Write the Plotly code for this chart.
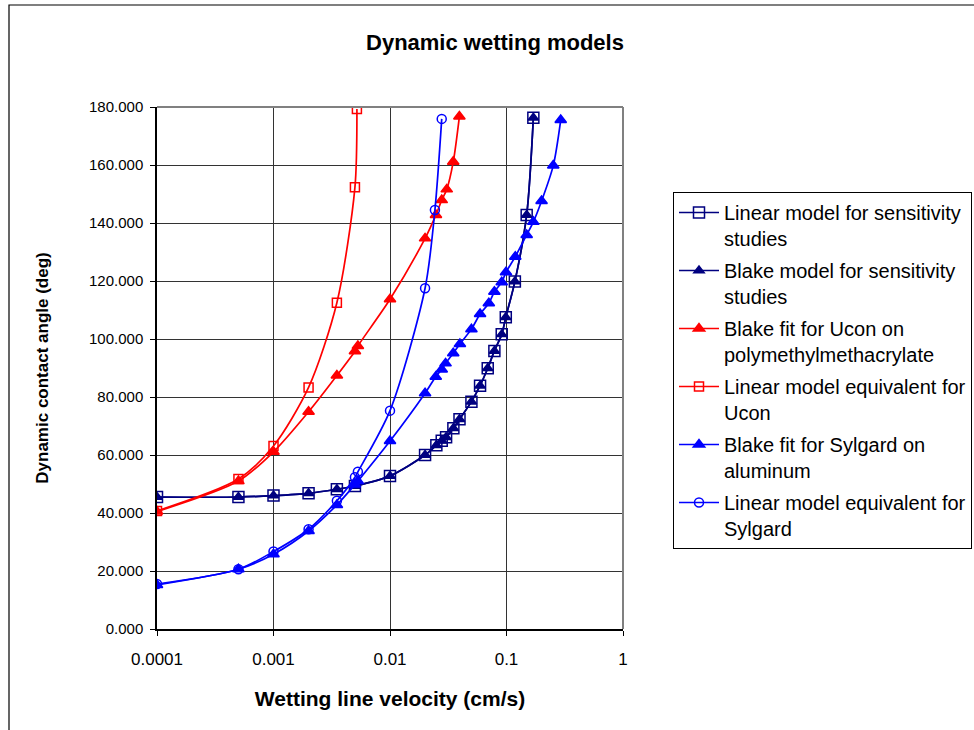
import plotly.graph_objects as go

# Navy: sensitivity studies (linear & Blake overlap)
sens_x = [0.0001, 0.0005, 0.001, 0.002, 0.0035, 0.005, 0.01, 0.02, 0.025, 0.0278, 0.0303,
          0.035, 0.0395, 0.05, 0.0593, 0.069, 0.0787, 0.091, 0.0986, 0.118, 0.149, 0.170]
sens_lin_y = [45.5, 45.5, 46.0, 46.8, 48.2, 49.3, 52.8, 60.0, 63.4, 64.9, 66.1,
              69.2, 72.3, 78.4, 83.9, 89.9, 95.9, 101.6, 107.5, 119.8, 142.8, 176.3]
sens_blake_y = [45.5, 45.5, 46.0, 46.8, 48.2, 49.3, 52.8, 60.0, 63.4, 64.9, 66.1,
                69.2, 72.3, 78.4, 83.9, 89.9, 95.9, 101.6, 107.5, 119.8, 142.8, 176.3]

# Red: Ucon
ucon_blake_x = [0.0001, 0.0005, 0.001, 0.002, 0.0035, 0.005, 0.0053, 0.01, 0.02, 0.0248,
                0.0278, 0.0307, 0.0349, 0.0394]
ucon_blake_y = [40.5, 51.0, 61.1, 74.9, 87.4, 95.8, 97.6, 113.7, 134.7, 142.8,
                147.9, 151.6, 161.1, 176.7]
ucon_lin_x = [0.0001, 0.0005, 0.001, 0.002, 0.0035, 0.005, 0.0052]
ucon_lin_y = [40.7, 51.7, 63.1, 83.3, 112.5, 152.3, 179.3]

# Blue: Sylgard
syl_blake_x = [0.0001, 0.0005, 0.001, 0.002, 0.0035, 0.005, 0.0053, 0.01, 0.02, 0.0247,
               0.0278, 0.0300, 0.0349, 0.0398, 0.050, 0.0593, 0.0705, 0.0787, 0.091,
               0.099, 0.119, 0.149, 0.170, 0.200, 0.252, 0.292]
syl_blake_y = [15.2, 20.6, 25.8, 33.8, 42.8, 49.8, 51.0, 64.8, 81.3, 87.0,
               89.5, 91.6, 95.1, 98.3, 103.4, 108.6, 112.3, 116.3, 119.6,
               123.0, 128.4, 135.9, 140.4, 147.6, 159.8, 175.5]
syl_lin_x = [0.0001, 0.0005, 0.001, 0.002, 0.0035, 0.005, 0.0053, 0.01, 0.02, 0.0243, 0.0278]
syl_lin_y = [15.5, 20.6, 26.7, 34.4, 44.2, 52.3, 54.2, 75.3, 117.5, 144.5, 175.9]

x_tickvals = [0.0001, 0.001, 0.01, 0.1, 1]
x_ticktext = ["0.0001", "0.001", "0.01", "0.1", "1"]
y_tickvals = [0, 20, 40, 60, 80, 100, 120, 140, 160, 180]

NAVY = "#000080"
BLUE = "#0000FF"
RED = "#FF0000"
FONT = "Arial, Liberation Sans, sans-serif"

fig = go.Figure()

def add(x, y, name, color, symbol, size, fill):
    fig.add_trace(go.Scatter(
        x=x, y=y, name=name, mode="lines+markers", legendgroup=name,
        line=dict(color=color, width=1.7, shape="spline", smoothing=0.8),
        marker=dict(symbol=symbol, size=size, color=fill,
                    line=dict(color=color, width=1.5)),
    ))

add(sens_x, sens_lin_y, "Linear model for sensitivity<br>studies", NAVY, "square-open", 11, NAVY)
add(sens_x, sens_blake_y, "Blake model for sensitivity<br>studies", NAVY, "triangle-up", 9, NAVY)
add(ucon_blake_x, ucon_blake_y, "Blake fit for Ucon on<br>polymethylmethacrylate", RED, "triangle-up", 10, RED)
add(ucon_lin_x, ucon_lin_y, "Linear model equivalent for<br>Ucon", RED, "square-open", 9, RED)
add(syl_blake_x, syl_blake_y, "Blake fit for Sylgard on<br>aluminum", BLUE, "triangle-up", 10, BLUE)
add(syl_lin_x, syl_lin_y, "Linear model equivalent for<br>Sylgard", BLUE, "circle-open", 9, BLUE)

L, R, T, B = 157, 623, 107, 629
W, H = 974, 730
pw, ph = R - L, B - T

def px(xpix):
    return (xpix - L) / pw

def py(ypix):
    return (B - ypix) / ph

fig.update_layout(
    width=W, height=H,
    margin=dict(l=L, r=W - R, t=T, b=H - B, pad=0, autoexpand=False),
    paper_bgcolor="white", plot_bgcolor="white",
    font=dict(family=FONT, size=15, color="black"),
    title=dict(text="<b>Dynamic wetting models</b>", x=px(495), xref="paper", xanchor="center",
               y=1 - 42 / H, yanchor="middle", font=dict(size=22, family=FONT)),
    showlegend=True,
    legend=dict(x=px(673), y=py(192), xanchor="left", yanchor="top",
                bordercolor="black", borderwidth=1, bgcolor="white",
                font=dict(size=20, family=FONT), valign="top",
                itemwidth=40, tracegroupgap=3, groupclick="toggleitem"),
    xaxis=dict(type="log", range=[-4, 0], tickvals=x_tickvals, ticktext=x_ticktext,
               tickfont=dict(size=17),
               showgrid=True, gridcolor="#333333", gridwidth=1,
               showline=True, linecolor="black", linewidth=1.5,
               ticks="outside", ticklen=5, tickcolor="black",
               zeroline=False, ticklabelstandoff=9,
               title=dict(text="<b>Wetting line velocity (cm/s)</b>", font=dict(size=21), standoff=23)),
    yaxis=dict(range=[0, 180], tickvals=y_tickvals, tickformat=".3f",
               showgrid=True, gridcolor="#333333", gridwidth=1,
               showline=True, linecolor="black", linewidth=1.5,
               ticks="outside", ticklen=5, tickcolor="black",
               zeroline=False, ticklabelstandoff=4,
               title=dict(text="<b>Dynamic contact angle (deg)</b>", font=dict(size=17), standoff=36)),
)

# plot-area border (top / right in grey)
fig.add_shape(type="line", xref="paper", yref="paper", x0=0, x1=1, y0=1, y1=1,
              line=dict(color="#808080", width=2))
fig.add_shape(type="line", xref="paper", yref="paper", x0=1, x1=1, y0=0, y1=1,
              line=dict(color="#808080", width=2))
# outer chart frame
fig.add_shape(type="rect", xref="paper", yref="paper",
              x0=px(9), x1=px(990), y0=py(745), y1=py(5),
              line=dict(color="black", width=1.2), fillcolor="rgba(0,0,0,0)", layer="below")

fig.write_html("out.html", config={"displayModeBar": False},
               post_script="document.body.style.margin='0px';")
